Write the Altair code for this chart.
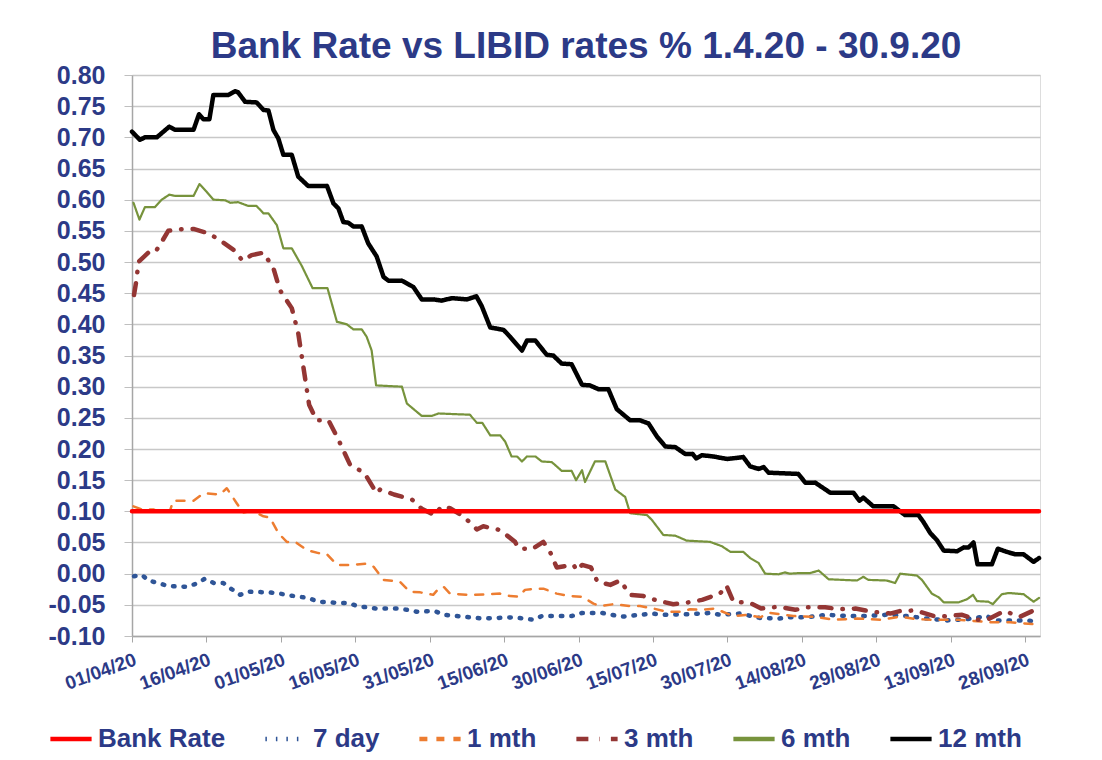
import altair as alt
import pandas as pd

NAVY = "#2C3A87"
FONT = "Liberation Sans"

SERIES = ["Bank Rate", "7 day", "1 mth", "3 mth", "6 mth", "12 mth"]
COLORS = ["#FF0000", "#2F5597", "#ED7D31", "#943634", "#77933C", "#000000"]
DASHES = [[1, 0], [1.5, 9], [8, 9], [12, 11, 0.5, 11], [1, 0], [1, 0]]
WIDTHS = [4.5, 4.5, 2.5, 4.5, 2.2, 4.5]

TICK_DAYS = [0, 15, 30, 45, 60, 75, 90, 105, 120, 135, 150, 165, 180]
TICK_LABELS = ["01/04/20", "16/04/20", "01/05/20", "16/05/20", "31/05/20", "15/06/20",
               "30/06/20", "15/07/20", "30/07/20", "14/08/20", "29/08/20", "13/09/20", "28/09/20"]
Y_TICKS = [-0.10, -0.05, 0.00, 0.05, 0.10, 0.15, 0.20, 0.25, 0.30, 0.35, 0.40, 0.45,
           0.50, 0.55, 0.60, 0.65, 0.70, 0.75, 0.80]

# days since 01/04/20
BANK_DAYS = [0, 182.8]
BANK_VALS = [0.10, 0.10]

D12 = [0, 1.6, 2.6, 5, 7.5, 8.7, 12.4, 13.5, 14.4, 15.6, 16.4, 19.4, 20.8, 21.4, 22.8, 25.1,
       26.5, 27.5, 28.5, 29.5, 30.5, 32.2, 33.5, 35.5, 39.3, 40.6, 41.6, 42.6, 43.6, 44.6,
       46.3, 47.6, 49.3, 50.7, 51.7, 54.4, 56.7, 58.4, 60.8, 62.4, 64.5, 67.5, 69.4, 70.5,
       72.2, 74.9, 76.2, 77.6, 78.6, 79.6, 81.3, 83.6, 84.9, 86.6, 88.6, 90.7, 92.3, 94.0,
       96.0, 97.7, 100.4, 102.4, 104.1, 105.8, 107.5, 109.5, 111.5, 113.0, 113.7, 114.9,
       117.2, 118.5, 120.0, 123.2, 124.6, 126.3, 127.3, 128.3, 131.3, 134.3, 135.7, 137.7,
       140.7, 145.4, 146.6, 147.4, 149.4, 153.5, 155.8, 158.5, 159.5, 160.9, 162.2, 163.6,
       166.3, 167.6, 168.6, 169.6, 170.4, 173.3, 174.5, 176.3, 178.0, 179.7, 181.7, 182.8]
V12 = [0.709, 0.696, 0.700, 0.700, 0.717, 0.712, 0.712, 0.737, 0.729, 0.729, 0.768, 0.768,
       0.774, 0.772, 0.757, 0.756, 0.744, 0.743, 0.712, 0.698, 0.672, 0.672, 0.637, 0.622,
       0.622, 0.594, 0.586, 0.564, 0.563, 0.557, 0.557, 0.530, 0.509, 0.476, 0.470, 0.470,
       0.460, 0.440, 0.440, 0.438, 0.442, 0.440, 0.445, 0.429, 0.395, 0.391, 0.380, 0.367,
       0.358, 0.374, 0.374, 0.351, 0.350, 0.337, 0.336, 0.303, 0.302, 0.296, 0.296, 0.264,
       0.246, 0.246, 0.241, 0.220, 0.204, 0.203, 0.192, 0.192, 0.185, 0.190, 0.188, 0.186,
       0.184, 0.187, 0.172, 0.168, 0.171, 0.162, 0.161, 0.160, 0.146, 0.146, 0.130, 0.130,
       0.117, 0.122, 0.108, 0.108, 0.094, 0.094, 0.083, 0.065, 0.054, 0.037, 0.036, 0.042,
       0.042, 0.050, 0.015, 0.015, 0.040, 0.035, 0.031, 0.031, 0.019, 0.025]

D6 = [0.3, 1.5, 2.6, 4.6, 6.0, 7.5, 8.7, 12.4, 13.6, 15.0, 16.4, 18.8, 19.8, 21.4, 23.4,
      25.1, 26.5, 27.5, 29.2, 30.5, 32.2, 34.2, 36.4, 39.4, 41.3, 43.3, 44.6, 46.3, 47.3,
      48.3, 49.2, 54.4, 55.4, 58.4, 60.4, 61.8, 64.8, 68.1, 69.5, 70.6, 72.2, 74.2, 75.2,
      76.5, 77.6, 78.6, 79.6, 81.3, 82.6, 84.6, 86.6, 88.6, 89.5, 90.7, 91.3, 93.3, 95.4,
      97.4, 99.4, 100.4, 103.8, 104.8, 107.1, 109.5, 111.8, 116.5, 118.9, 120.6, 123.2,
      124.6, 126.3, 127.6, 130.3, 131.6, 132.6, 134.7, 136.7, 138.4, 140.4, 146.1, 147.4,
      148.4, 152.1, 153.8, 154.8, 158.2, 159.2, 161.2, 162.6, 163.6, 166.6, 168.3, 169.5,
      170.3, 172.6, 173.5, 175.3, 176.7, 179.7, 181.7, 182.8]
V6 = [0.595, 0.568, 0.588, 0.588, 0.600, 0.608, 0.606, 0.606, 0.625, 0.613, 0.600, 0.599,
      0.595, 0.596, 0.590, 0.590, 0.578, 0.578, 0.559, 0.522, 0.522, 0.494, 0.458, 0.458,
      0.404, 0.400, 0.392, 0.392, 0.380, 0.358, 0.302, 0.300, 0.273, 0.253, 0.253, 0.257,
      0.256, 0.255, 0.242, 0.242, 0.222, 0.222, 0.212, 0.188, 0.188, 0.180, 0.188, 0.188,
      0.180, 0.179, 0.165, 0.165, 0.150, 0.166, 0.147, 0.180, 0.180, 0.135, 0.123, 0.097,
      0.094, 0.086, 0.062, 0.061, 0.053, 0.051, 0.044, 0.035, 0.035, 0.025, 0.017, 0.000,
      -0.001, 0.002, 0.000, 0.001, 0.001, 0.005, -0.009, -0.011, -0.005, -0.010, -0.011,
      -0.015, 0.000, -0.003, -0.010, -0.032, -0.038, -0.046, -0.046, -0.041, -0.034,
      -0.044, -0.045, -0.049, -0.033, -0.031, -0.033, -0.045, -0.039]

D3 = [0.4, 0.9, 1.3, 3.3, 4.6, 5.6, 7.3, 10.3, 12.4, 15.4, 17.7, 20.4, 22.3, 24.1, 26.5,
      28.5, 29.8, 32.2, 33.5, 35.7, 37.2, 39.6, 41.3, 44.0, 46.8, 49.3, 50.0, 52.8, 56.4,
      58.4, 61.0, 62.4, 64.1, 66.8, 69.5, 70.8, 74.2, 77.2, 77.9, 80.6, 82.9, 84.3, 85.6,
      89.0, 89.7, 90.7, 92.5, 93.8, 96.4, 98.4, 100.4, 103.1, 105.8, 109.1, 111.5, 114.9,
      118.5, 119.8, 121.2, 124.6, 126.8, 130.3, 133.7, 136.0, 139.7, 142.7, 145.8, 149.1,
      152.8, 154.8, 157.9, 161.6, 162.9, 167.3, 170.3, 172.3, 175.8, 179.0, 182.8]
V3 = [0.447, 0.471, 0.500, 0.515, 0.515, 0.527, 0.550, 0.553, 0.553, 0.546, 0.535, 0.520,
      0.502, 0.511, 0.515, 0.490, 0.455, 0.426, 0.386, 0.271, 0.246, 0.246, 0.220, 0.174,
      0.162, 0.129, 0.135, 0.127, 0.119, 0.104, 0.094, 0.108, 0.105, 0.092, 0.071, 0.076,
      0.070, 0.051, 0.041, 0.039, 0.051, 0.034, 0.010, 0.014, 0.005, 0.014, 0.010, -0.013,
      -0.018, -0.011, -0.034, -0.036, -0.043, -0.049, -0.047, -0.042, -0.032, -0.019,
      -0.045, -0.047, -0.056, -0.053, -0.058, -0.054, -0.054, -0.057, -0.056, -0.061,
      -0.064, -0.060, -0.059, -0.068, -0.069, -0.066, -0.074, -0.074, -0.060, -0.069, -0.055]

D1 = [0.3, 2.0, 4.3, 5.6, 7.7, 8.3, 12.4, 14.4, 17.7, 19.1, 21.1, 22.4, 24.1, 26.5, 27.8,
      29.5, 31.2, 32.9, 35.2, 37.6, 39.2, 41.3, 44.0, 47.3, 48.7, 50.7, 54.0, 56.0, 58.1,
      60.7, 61.8, 62.8, 64.1, 68.1, 71.8, 74.2, 76.2, 77.9, 79.2, 81.3, 82.9, 85.6, 88.3,
      90.7, 93.0, 94.4, 97.0, 100.4, 102.4, 105.1, 107.8, 110.5, 112.5, 114.5, 117.5,
      121.2, 123.9, 126.6, 128.6, 133.3, 137.4, 141.4, 146.1, 150.8, 154.8, 158.2, 161.6,
      166.5, 173.0, 177.0, 181.7, 182.8]
V1 = [0.108, 0.103, 0.103, 0.099, 0.102, 0.117, 0.117, 0.129, 0.127, 0.137, 0.113, 0.098,
      0.101, 0.092, 0.090, 0.065, 0.051, 0.051, 0.038, 0.033, 0.032, 0.014, 0.014, 0.016,
      0.011, -0.010, -0.013, -0.029, -0.030, -0.034, -0.024, -0.021, -0.032, -0.034,
      -0.033, -0.032, -0.036, -0.037, -0.026, -0.024, -0.024, -0.032, -0.036, -0.037,
      -0.048, -0.052, -0.049, -0.052, -0.052, -0.056, -0.061, -0.061, -0.057, -0.058,
      -0.056, -0.068, -0.066, -0.070, -0.063, -0.068, -0.069, -0.074, -0.072, -0.074,
      -0.069, -0.073, -0.074, -0.074, -0.078, -0.078, -0.081, -0.082]

D7 = [0.4, 2.0, 3.3, 5.3, 7.3, 11.0, 13.0, 14.7, 16.5, 18.4, 20.1, 21.8, 23.4, 27.8, 29.8,
      31.9, 35.5, 37.6, 41.6, 43.6, 45.4, 49.3, 53.4, 55.4, 57.3, 61.0, 62.8, 66.8, 70.8,
      76.9, 80.9, 82.6, 88.6, 90.7, 94.7, 96.7, 98.7, 102.4, 104.8, 106.8, 112.5, 116.5,
      118.5, 122.6, 126.5, 130.3, 132.3, 136.0, 140.0, 144.1, 148.1, 152.1, 156.2, 160.2,
      164.2, 168.3, 172.3, 173.8, 178.0, 180.5, 182.8]
V7 = [-0.004, -0.002, -0.011, -0.015, -0.020, -0.021, -0.016, -0.008, -0.015, -0.015,
      -0.025, -0.034, -0.029, -0.030, -0.032, -0.035, -0.039, -0.045, -0.047, -0.047,
      -0.052, -0.056, -0.056, -0.058, -0.061, -0.060, -0.066, -0.069, -0.072, -0.070,
      -0.074, -0.068, -0.068, -0.063, -0.063, -0.066, -0.069, -0.066, -0.064, -0.066,
      -0.065, -0.063, -0.066, -0.064, -0.071, -0.072, -0.070, -0.070, -0.066, -0.068,
      -0.068, -0.066, -0.068, -0.072, -0.075, -0.073, -0.068, -0.075, -0.075, -0.075, -0.078]

SOURCES = {
    "Bank Rate": (BANK_DAYS, BANK_VALS),
    "7 day": (D7, V7),
    "1 mth": (D1, V1),
    "3 mth": (D3, V3),
    "6 mth": (D6, V6),
    "12 mth": (D12, V12),
}

rows = []
for name, (days, vals) in SOURCES.items():
    for d, v in zip(days, vals):
        rows.append({"day": d, "value": v, "series": name})
df = pd.DataFrame(rows)

label_expr = " : ".join(f"datum.value == {d} ? '{l}'" for d, l in zip(TICK_DAYS, TICK_LABELS)) + " : ''"

legend = alt.Legend(
    title=None, orient="none", direction="horizontal", legendX=-84, legendY=641,
    padding=0, symbolType="stroke", symbolSize=1700, symbolStrokeWidth=4.5,
    labelFont=FONT, labelFontSize=26, labelFontWeight="bold", labelColor=NAVY,
    labelOffset=4, columnPadding=30, labelLimit=300,
)

x = alt.X("day:Q", scale=alt.Scale(domain=[0, 183], nice=False, zero=False),
          axis=alt.Axis(values=TICK_DAYS, labelExpr=label_expr, title=None, grid=False,
                        labelAngle=-20, labelAlign="right", labelBaseline="top",
                        labelFont=FONT, labelFontSize=19, labelFontWeight="bold",
                        labelColor=NAVY, labelPadding=8, tickSize=6, tickColor="#A6A6A6",
                        domainColor="#A6A6A6", domainWidth=1.5, labelOverlap=False,
                        labelBound=False, labelFlush=False))
y = alt.Y("value:Q", scale=alt.Scale(domain=[-0.10, 0.80], nice=False, zero=False),
          axis=alt.Axis(values=Y_TICKS, title=None,
                        labelExpr="replace(format(datum.value, '.2f'), '\u2212', '-')",
                        labelFont=FONT, labelFontSize=25, labelFontWeight="bold",
                        labelColor=NAVY, labelPadding=19, tickSize=8, tickColor="#BFBFBF",
                        gridColor="#C8C8C8", gridWidth=1.5, domainColor="#A6A6A6",
                        domainWidth=1.5, labelOverlap=False, labelFlush=False))
color = alt.Color("series:N", scale=alt.Scale(domain=SERIES, range=COLORS), legend=legend)
dash = alt.StrokeDash("series:N", scale=alt.Scale(domain=SERIES, range=DASHES), legend=legend)

base = alt.Chart(df)
draw_order = ["7 day", "1 mth", "3 mth", "6 mth", "12 mth", "Bank Rate"]
layers = []
for name in draw_order:
    w = WIDTHS[SERIES.index(name)]
    layers.append(
        base.transform_filter(alt.datum.series == name)
        .mark_line(strokeWidth=w, strokeCap="round", strokeJoin="round")
        .encode(x=x, y=y, color=color, strokeDash=dash)
    )

chart = alt.layer(*layers).properties(
    width=908, height=561,
    autosize=alt.AutoSizeParams(type="none"),
    padding={"left": 124, "top": 67, "right": 50, "bottom": 116},
    title=alt.TitleParams("Bank Rate vs LIBID rates % 1.4.20 - 30.9.20", font=FONT,
                          fontSize=37, fontWeight="bold", color=NAVY, anchor="middle",
                          frame="group", offset=-3),
).configure_view(stroke=None).configure(background="white")

chart.save("out.html", embed_options={"renderer": "svg", "actions": False})
